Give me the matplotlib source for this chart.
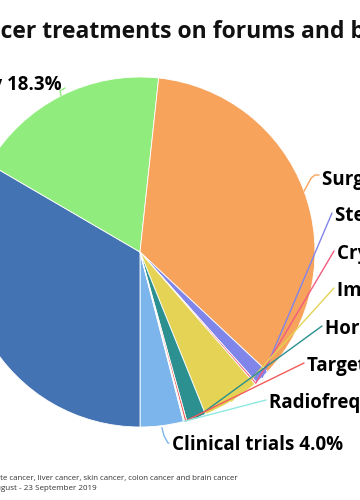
import numpy as np
import matplotlib
matplotlib.use("Agg")
import matplotlib.pyplot as plt

# slice data, in drawing order (clockwise)
labels = ["Clinical trials", "Chemotherapy", "Radiotherapy", "Surgery", "Steroids",
          "Cryotherapy", "Immunotherapy", "Hormone therapy", "Targeted therapy",
          "Radiofrequency ablation"]
shares = [4.0, 33.4, 18.3, 35.3, 1.4, 0.2, 5.3, 1.8, 0.2, 0.1]
colors = ["#7cb5ec", "#4473b4", "#90ed7d", "#f7a35c", "#8085e9",
          "#f15c80", "#e4d354", "#2b908f", "#f45b5b", "#91e8e1"]

title = "Cancer treatments on forums and blogs"
note_1 = ("Cancer types: breast cancer, lung cancer, prostate cancer, liver cancer, "
          "skin cancer, colon cancer and brain cancer")
note_2 = "Period: 23 August - 23 September 2019"

# layout (pixels, y measured from the top)
W, H = 360, 500
cx, cy, R = 140, 252, 175
start_cw = 165.6  # first slice starts here, degrees clockwise from 12 o'clock
# label anchor (x, y, ha) per slice
label_pos = {
    "Clinical trials": (172, 445, "left"),
    "Chemotherapy": (-40, 330, "right"),
    "Radiotherapy": (62, 85, "right"),
    "Surgery": (322, 180, "left"),
    "Steroids": (335, 216, "left"),
    "Cryotherapy": (337, 254, "left"),
    "Immunotherapy": (337, 291, "left"),
    "Hormone therapy": (325, 329, "left"),
    "Targeted therapy": (307, 366, "left"),
    "Radiofrequency ablation": (269, 403, "left"),
}

plt.rcParams["font.family"] = ["Open Sans", "DejaVu Sans"]
fig = plt.figure(figsize=(W / 100, H / 100), dpi=100)
ax = fig.add_axes([0, 0, 1, 1])

ax.pie(shares, colors=colors, startangle=90 - start_cw, counterclock=False,
       center=(cx, H - cy), radius=R, frame=True,
       wedgeprops=dict(edgecolor="white", linewidth=0.6))
ax.set_xlim(0, W)
ax.set_ylim(0, H)
ax.set_aspect("auto")
ax.axis("off")

# connectors + labels
cum = start_cw
total = sum(shares)
for name, val, col in zip(labels, shares, colors):
    span = val / total * 360
    mid = np.radians(cum + span / 2)
    cum += span
    ex, ey = cx + R * np.sin(mid), cy - R * np.cos(mid)
    lx, ly, ha = label_pos[name]
    tx = lx - 3 if ha == "left" else lx + 3
    if name == "Surgery":
        xs, ys = [ex, ex + 7, tx - 4, tx], [ey, ey - 13, ly - 5, ly - 5]
    elif name == "Clinical trials":
        xs, ys = [ex, ex + 2, ex + 6, tx], [ey + 2, ey + 10, ly - 2, ly - 2]
    elif name == "Radiotherapy":
        xs, ys = [ex, ex - 1, tx], [ey, ey - 5, ly + 3]
    else:
        xs, ys = [ex, tx], [ey, ly - 3]
    ax.plot(xs, [H - y for y in ys], color=col, lw=1, clip_on=False,
            solid_capstyle="round")
    ax.text(lx, H - ly, f"{name} {val:.1f}%", ha=ha, va="center",
            fontsize=13.5, fontweight="bold", color="#000000")

# title: shift so that "Can" falls off the left edge
r = fig.canvas.get_renderer()
probe = fig.text(0, 0, "Can", fontsize=16.5, fontweight="bold")
shift = probe.get_window_extent(renderer=r).width
probe.remove()
fig.text((1 - shift) / W, 1 - 38 / H, title, fontsize=16.5, fontweight="bold",
         color="#111111", ha="left", va="baseline")

fig.text(238 / W, 1 - 478 / H, note_1, fontsize=5.7, color="#333333",
         ha="right", va="center")
fig.text(97 / W, 1 - 489 / H, note_2, fontsize=5.8, color="#333333",
         ha="right", va="center")

fig.savefig("out.png", dpi=100, facecolor="white")
